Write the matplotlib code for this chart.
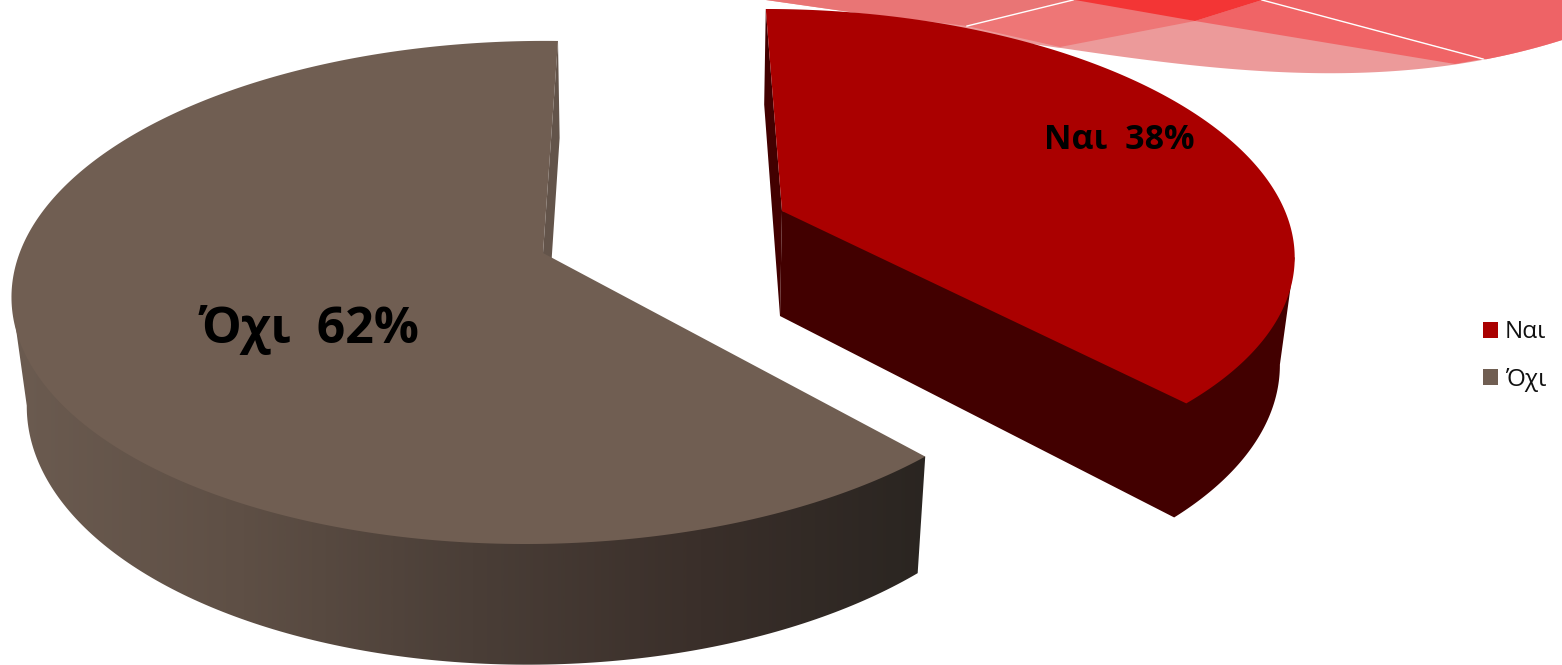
import numpy as np
import matplotlib
matplotlib.use("Agg")
import matplotlib.pyplot as plt
from matplotlib.patches import Patch, Polygon
from matplotlib.colors import LinearSegmentedColormap

# Chart data
categories = ['Ναι', 'Όχι']
shares = [38, 62]
labels = ['Ναι  38%', 'Όχι  62%']

RED = '#aa0000'
RED_SIDE = '#420000'
GREY = '#705e52'
GREY_WALL = '#63544a'

W, H = 1562, 665
TILT = -0.157


# Project a point of the unit disc (u right, v towards viewer) onto the picture
def project(u, v, geo):
    den = 1 + TILT * v + geo['lean'] * u
    x = (geo['cx'] + geo['rx'] * u + geo['skew'] * v) / den
    y = (geo['cy'] + geo['ry'] * v + geo['roll'] * u) / den
    return x, y


# Top rim of a slice, angle measured clockwise from the back
def rim(start, stop, geo, n=300):
    ang = np.radians(np.linspace(start, stop, n))
    return project(np.sin(ang), -np.cos(ang), geo)


def lower(x, y, geo):
    # the base of the pie is slightly narrower and taller on screen
    lx = geo['lx'] + 0.975 * (x - geo['cx'])
    ly = geo['ly'] + 1.047 * (y - geo['cy'])
    return lx, ly


red_geo = dict(cx=782, cy=211, rx=503, ry=200.6, skew=-104, lean=0, roll=0, lx=780, ly=316)
grey_geo = dict(cx=543, cy=253, rx=522, ry=205.6, skew=-102.6, lean=0.0098, roll=6.6, lx=545, ly=360)

fig = plt.figure(figsize=(W / 100, H / 100), dpi=100)
ax = fig.add_axes([0, 0, 1, 1])
ax.set_xlim(0, W)
ax.set_ylim(H, 0)
ax.axis('off')

# Decorative swoosh behind the chart, top right
edge_x = np.array([766, 850, 950, 1060, 1150, 1250, 1320, 1400, 1455, 1483, 1530, 1562])
edge_y = np.array([0, 12, 32, 48, 60, 70, 74, 71, 64, 59, 50, 40])
fine_x = np.linspace(766, 1562, 200)
fine_y = np.polyval(np.polyfit(edge_x[3:], edge_y[3:], 3), fine_x)
fine_y[fine_x < 1060] = np.interp(fine_x[fine_x < 1060], edge_x, edge_y)


def blob_part(x_from, x_to, top_pts, color):
    m = (fine_x >= x_from) & (fine_x <= x_to)
    xs = list(fine_x[m]) + [p[0] for p in top_pts]
    ys = list(fine_y[m]) + [p[1] for p in top_pts]
    ax.fill(xs, ys, color=color, lw=0, zorder=1)


blob_part(766, 1562, [(1562, 0), (766, 0)], '#ec9a9a')
ax.fill([766, 1073, 967, 850], [0, 0, 26, 12], color='#e97575', lw=0, zorder=2)
ax.fill([1073, 1105, 1195, 1060, 967], [0, 0, 21, 47, 26], color='#ee7676', lw=0, zorder=2)
ax.fill([1075, 1262, 1195], [0, 0, 21], color='#f33535', lw=0, zorder=3)
ax.fill([1195, 1262, 1483, 1455], [21, 0, 59, 64], color='#f06466', lw=0, zorder=2)
blob_part(1483, 1562, [(1562, 0), (1262, 0)], '#ee6366')
ax.plot([967, 1073], [26, 0], color='white', lw=1, zorder=4)
ax.plot([1262, 1483], [0, 59], color='white', lw=1, zorder=4)

# Angles of the slices from the shares
red_sweep = shares[0] / sum(shares) * 360
grey_sweep = shares[1] / sum(shares) * 360

# Grey slice: outer wall as a gradient clipped to the wall outline
gx, gy = rim(red_sweep, red_sweep + grey_sweep, grey_geo)
glx, gly = lower(gx, gy, grey_geo)
left = np.argmin(gx)
outline = list(zip(glx[:left + 1], gly[:left + 1])) + [(gx[left], gy[left]), (gx[0], gy[0])]
wall_patch = Polygon(outline, closed=True, transform=ax.transData, fc='none', ec='none')
ax.add_patch(wall_patch)
shade = LinearSegmentedColormap.from_list('wall', ['#6b5b50', '#5e4f45', '#4a3e37', '#3a2f2a', '#2a2521'])
im = ax.imshow(np.linspace(0, 1, 512)[None, :], cmap=shade, extent=[15, 930, H, 0],
               aspect='auto', zorder=5, interpolation='bilinear')
im.set_clip_path(wall_patch)
ax.set_xlim(0, W)
ax.set_ylim(H, 0)

# grey cut wall at the back, then the top face
ax.fill([gx[-1], grey_geo['cx'], grey_geo['lx'], glx[-1]],
        [gy[-1], grey_geo['cy'], grey_geo['ly'], gly[-1]], color=GREY_WALL, lw=0, zorder=6)
ax.fill(list(gx) + [grey_geo['cx']], list(gy) + [grey_geo['cy']], color=GREY, lw=0, zorder=7)

# Red slice: one outline for the outer and front walls, one for the back wall, then the top face
rx, ry = rim(0, red_sweep, red_geo)
rlx, rly = lower(rx, ry, red_geo)
right = np.argmax(rx)
side_x = [rx[right]] + list(rlx[right:]) + [red_geo['lx'], red_geo['cx']]
side_y = [ry[right]] + list(rly[right:]) + [red_geo['ly'], red_geo['cy']]
ax.fill(side_x, side_y, color=RED_SIDE, lw=0, zorder=8)
ax.fill([rx[0], red_geo['cx'], red_geo['lx'], rlx[0]],
        [ry[0], red_geo['cy'], red_geo['ly'], rly[0]], color=RED_SIDE, lw=0, zorder=8)
ax.fill(list(rx) + [red_geo['cx']], list(ry) + [red_geo['cy']], color=RED, lw=0, zorder=9)

# Slice labels
ax.text(1119, 140, labels[0], fontsize=24.5, fontweight='bold', family='Open Sans',
        ha='center', va='center', color='black', zorder=10)
ax.text(309, 330, labels[1], fontsize=36, fontweight='bold', family='Open Sans',
        ha='center', va='center', color='black', zorder=10)

# Legend
handles = [Patch(facecolor=RED, label=categories[0]), Patch(facecolor=GREY, label=categories[1])]
leg = ax.legend(handles=handles, loc='center left', bbox_to_anchor=(1483 / W, 1 - 356 / H),
                frameon=False, prop={'family': 'Open Sans', 'size': 17.5},
                handlelength=0.617, handleheight=0.617, handletextpad=0.29,
                labelspacing=0.95, borderpad=0, borderaxespad=0)
for t in leg.get_texts():
    t.set_color('#111111')

fig.savefig('out.png', dpi=100)
